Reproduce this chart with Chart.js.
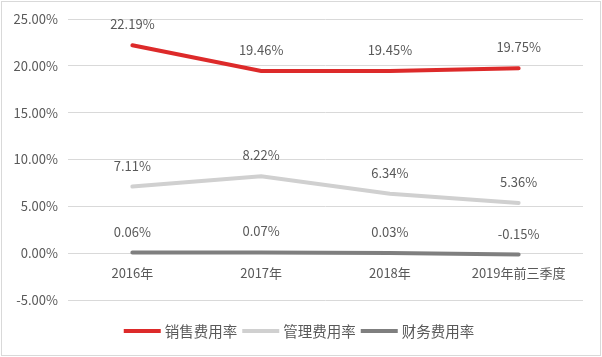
<!DOCTYPE html>
<html>
<head>
<meta charset="utf-8">
<script src="https://cdn.jsdelivr.net/npm/chart.js@4/dist/chart.umd.min.js"></script>
<style>
html,body{margin:0;padding:0;background:#fff;}
#wrap{width:602px;height:357px;position:relative;}
</style>
</head>
<body>
<div id="wrap"><canvas id="c" width="602" height="357"></canvas></div>
<script>
const categories = ['2016年', '2017年', '2018年', '2019年前三季度'];
const salesRate = [22.19, 19.46, 19.45, 19.75];
const mgmtRate = [7.11, 8.22, 6.34, 5.36];
const finRate = [0.06, 0.07, 0.03, -0.15];
const seriesNames = ['销售费用率', '管理费用率', '财务费用率'];
const yTicks = [-5, 0, 5, 10, 15, 20, 25];

const FONT = '"Noto Sans CJK SC", "Noto Sans", sans-serif';
const TXT = '#595959';

const dataLabels = {
  id: 'dataLabels',
  afterDatasetsDraw(chart) {
    const ctx = chart.ctx;
    ctx.save();
    ctx.font = '13px ' + FONT;
    ctx.fillStyle = TXT;
    ctx.textAlign = 'center';
    ctx.textBaseline = 'middle';
    chart.data.datasets.forEach((ds, i) => {
      const meta = chart.getDatasetMeta(i);
      meta.data.forEach((pt, j) => {
        ctx.fillText(ds.data[j].toFixed(2) + '%', pt.x, pt.y - 21);
      });
    });
    ctx.restore();
  }
};

const customLegend = {
  id: 'customLegend',
  afterDraw(chart) {
    const ctx = chart.ctx;
    ctx.save();
    ctx.font = '14.5px ' + FONT;
    const lineW = 37, gap1 = 4, gap2 = 5;
    const items = chart.data.datasets.map(ds => ({label: ds.label, color: ds.borderColor, w: ctx.measureText(ds.label).width}));
    let total = 0;
    items.forEach((it, i) => { total += lineW + gap1 + it.w + (i < items.length - 1 ? gap2 : 0); });
    let x = chart.width / 2 - total / 2 - 2;
    const y = 331;
    ctx.textBaseline = 'middle';
    ctx.textAlign = 'left';
    items.forEach(it => {
      ctx.strokeStyle = it.color;
      ctx.lineWidth = 4;
      ctx.lineCap = 'butt';
      ctx.beginPath();
      ctx.moveTo(x, y);
      ctx.lineTo(x + lineW, y);
      ctx.stroke();
      x += lineW + gap1;
      ctx.fillStyle = TXT;
      ctx.fillText(it.label, x, y);
      x += it.w + gap2;
    });
    // outer border
    ctx.strokeStyle = '#d9d9d9';
    ctx.lineWidth = 1;
    ctx.strokeRect(1.5, 1.5, chart.width - 3, chart.height - 3);
    ctx.restore();
  }
};

new Chart(document.getElementById('c'), {
  type: 'line',
  data: {
    labels: categories,
    datasets: [
      {label: seriesNames[0], data: salesRate, borderColor: '#dd2a2a', backgroundColor: '#dd2a2a', borderWidth: 4, pointRadius: 0, tension: 0, borderCapStyle: 'round'},
      {label: seriesNames[1], data: mgmtRate, borderColor: '#d0d0d0', backgroundColor: '#d0d0d0', borderWidth: 4, pointRadius: 0, tension: 0, borderCapStyle: 'round'},
      {label: seriesNames[2], data: finRate, borderColor: '#7f7f7f', backgroundColor: '#7f7f7f', borderWidth: 4, pointRadius: 0, tension: 0, borderCapStyle: 'round'}
    ]
  },
  options: {
    responsive: false,
    animation: false,
    layout: {padding: {top: 19, right: 19, bottom: 57, left: 0}},
    plugins: {legend: {display: false}, tooltip: {enabled: false}},
    scales: {
      x: {
        position: {y: 0},
        offset: true,
        grid: {display: false, drawTicks: false},
        border: {display: false},
        ticks: {color: TXT, font: {family: FONT, size: 13}, padding: 12, maxRotation: 0}
      },
      y: {
        min: -5, max: 25,
        afterBuildTicks: s => { s.ticks = yTicks.map(v => ({value: v})); },
        afterFit: s => { s.width = 68; },
        grid: {color: '#d9d9d9', drawTicks: false, lineWidth: 1},
        border: {display: false},
        ticks: {color: TXT, font: {family: FONT, size: 13}, padding: 10, callback: v => v.toFixed(2) + '%'}
      }
    }
  },
  plugins: [dataLabels, customLegend]
});
</script>
</body>
</html>
